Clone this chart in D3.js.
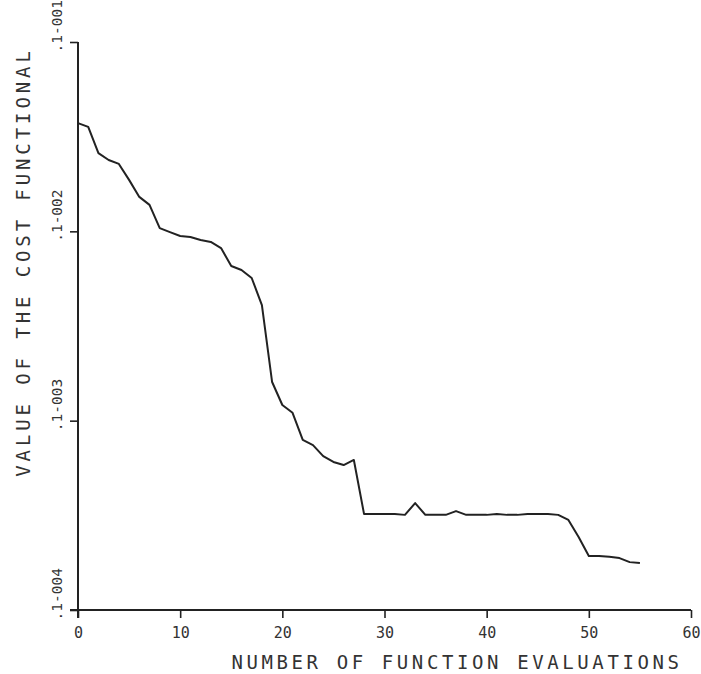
<!DOCTYPE html>
<html>
<head>
<meta charset="utf-8">
<script src="https://cdn.jsdelivr.net/npm/d3@7"></script>
<style>
  body { margin: 0; background: #fff; }
  svg { display: block; }
  text { font-family: "DejaVu Sans Mono", monospace; fill: #333; }
</style>
</head>
<body>
<svg id="chart" width="701" height="674"></svg>
<script>
// evaluations 0..55 and cost functional value at each one
var evals = d3.range(0, 56)
var cost = [3.73e-3, 3.56e-3, 2.59e-3, 2.38e-3, 2.27e-3, 1.87e-3, 1.52e-3, 1.38e-3, 1.04e-3, 9.9e-4,
            9.45e-4, 9.33e-4, 9.0e-4, 8.79e-4, 8.16e-4, 6.56e-4, 6.25e-4, 5.67e-4, 4.08e-4, 1.60e-4,
            1.21e-4, 1.10e-4, 7.91e-5, 7.43e-5, 6.50e-5, 6.05e-5, 5.83e-5, 6.20e-5, 3.21e-5, 3.21e-5,
            3.21e-5, 3.21e-5, 3.18e-5, 3.67e-5, 3.18e-5, 3.18e-5, 3.18e-5, 3.33e-5, 3.18e-5, 3.18e-5,
            3.18e-5, 3.21e-5, 3.18e-5, 3.18e-5, 3.21e-5, 3.21e-5, 3.21e-5, 3.18e-5, 2.99e-5, 2.43e-5,
            1.93e-5, 1.93e-5, 1.91e-5, 1.88e-5, 1.79e-5, 1.77e-5]
var xTicks = [0, 10, 20, 30, 40, 50, 60]
var xTickLabels = ["0", "10", "20", "30", "40", "50", "60"]
var yTicks = [1e-5, 1e-4, 1e-3, 1e-2]
var yTickLabels = [".1-004", ".1-003", ".1-002", ".1-001"]

var svg = d3.select("#chart")
var ink = "#222"

var x = d3.scaleLinear().domain([0, 60]).range([78, 691])
var y = d3.scaleLog().domain([1e-5, 1e-2]).range([610, 42])

// axes, restyled to look like the old plotter output
var xAxis = d3.axisBottom(x).tickValues(xTicks).tickSize(8).tickSizeOuter(0)
  .tickFormat(function(d, i) { return xTickLabels[i] })
var gx = svg.append("g").attr("transform", "translate(0,610)").call(xAxis)
gx.select(".domain").attr("d", "M70,0H691").attr("stroke", ink).attr("stroke-width", 2)
gx.selectAll(".tick line").attr("stroke", ink).attr("stroke-width", 1.6)
gx.selectAll(".tick text").attr("y", 17).attr("fill", "#333")
  .style("font-size", "15px")
  .style("font-family", "DejaVu Sans Mono, monospace")

var yAxis = d3.axisLeft(y).tickValues(yTicks).tickSize(8).tickSizeOuter(0)
  .tickFormat(function(d, i) { return yTickLabels[i] })
var gy = svg.append("g").attr("transform", "translate(78,0)").call(yAxis)
gy.select(".domain").attr("d", "M0,42V618").attr("stroke", ink).attr("stroke-width", 2)
gy.selectAll(".tick line").attr("stroke", ink).attr("stroke-width", 1.6)
gy.selectAll(".tick text")
  .attr("x", null).attr("dy", null)
  .attr("text-anchor", "start")
  .attr("transform", "translate(-16,10) rotate(-90)")
  .attr("fill", "#333")
  .style("font-size", "14.5px")
  .style("font-family", "DejaVu Sans Mono, monospace")

// the curve
var line = d3.line()
  .x(function(d, i) { return x(evals[i]) })
  .y(function(d) { return y(d) })

svg.append("path")
  .datum(cost)
  .attr("d", line)
  .attr("fill", "none")
  .attr("stroke", ink)
  .attr("stroke-width", 2)
  .attr("stroke-linejoin", "round")

// titles
svg.append("text")
  .attr("x", 457).attr("y", 669)
  .attr("text-anchor", "middle")
  .style("font-size", "19px")
  .attr("letter-spacing", 3.6)
  .text("NUMBER OF FUNCTION EVALUATIONS")

svg.append("text")
  .attr("transform", "translate(30,262) rotate(-90)")
  .attr("text-anchor", "middle")
  .style("font-size", "19px")
  .attr("letter-spacing", 3.9)
  .text("VALUE OF THE COST FUNCTIONAL")
</script>
</body>
</html>
